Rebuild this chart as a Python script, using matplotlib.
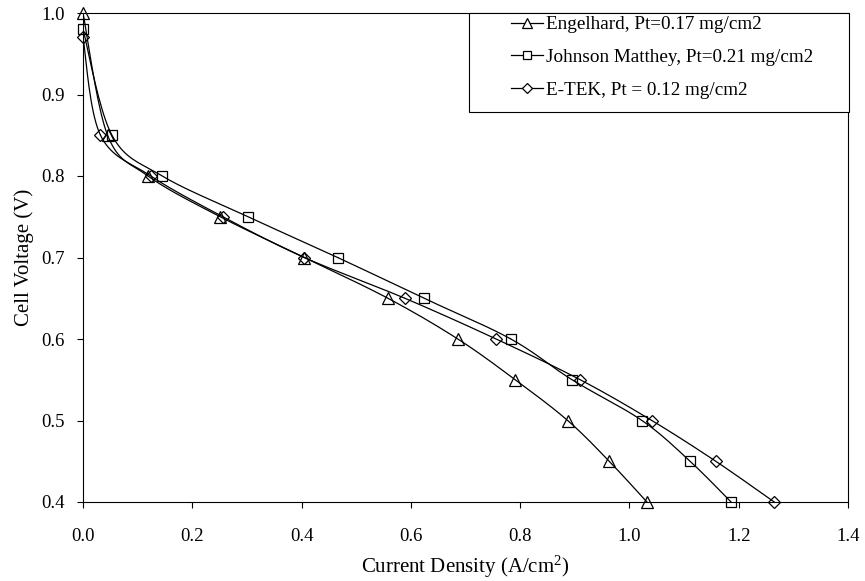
import numpy as np
import matplotlib
matplotlib.use("Agg")
import matplotlib.pyplot as plt
from matplotlib.patches import Rectangle

plt.rcParams["font.family"] = ["Liberation Serif", "DejaVu Serif"]
plt.rcParams["mathtext.fontset"] = "custom"
plt.rcParams["mathtext.rm"] = "Liberation Serif"

# voltage levels (V)
v_engel = [1.00, 0.85, 0.80, 0.75, 0.70, 0.65, 0.60, 0.55, 0.50, 0.45, 0.40]
v_jm = [0.98, 0.85, 0.80, 0.75, 0.70, 0.65, 0.60, 0.55, 0.50, 0.45, 0.40]
v_etek = [0.97, 0.85, 0.80, 0.75, 0.70, 0.65, 0.60, 0.55, 0.50, 0.45, 0.40]

# current density (A/cm2)
i_engel = [0.0, 0.045, 0.119, 0.251, 0.405, 0.558, 0.686, 0.791, 0.887, 0.963, 1.032]
i_jm = [0.0, 0.053, 0.145, 0.302, 0.466, 0.624, 0.783, 0.895, 1.023, 1.111, 1.186]
i_etek = [0.0, 0.032, 0.124, 0.256, 0.405, 0.589, 0.756, 0.910, 1.041, 1.158, 1.265]

labels = ["Engelhard, Pt=0.17 mg/cm2",
          "Johnson Matthey, Pt=0.21 mg/cm2",
          "E-TEK, Pt = 0.12 mg/cm2"]

XLIM = (0.0, 1.4)
YLIM = (0.4, 1.0)


def smooth(x, y, n=20):
    """Catmull-Rom curve through the points (like Excel's smoothed line)"""
    sx = XLIM[1] - XLIM[0]
    sy = YLIM[1] - YLIM[0]
    p = np.column_stack([np.array(x) / sx, np.array(y) / sy])
    p = np.vstack([p[0], p, p[-1]])
    out = []
    for k in range(1, len(p) - 2):
        p0, p1, p2, p3 = p[k - 1], p[k], p[k + 1], p[k + 2]
        t = np.linspace(0, 1, n)[:, None]
        seg = 0.5 * ((2 * p1) + (-p0 + p2) * t
                     + (2 * p0 - 5 * p1 + 4 * p2 - p3) * t ** 2
                     + (-p0 + 3 * p1 - 3 * p2 + p3) * t ** 3)
        out.append(seg)
    c = np.vstack(out)
    return c[:, 0] * sx, c[:, 1] * sy


fig = plt.figure(figsize=(8.65, 5.81), dpi=100)
fig.subplots_adjust(left=83 / 865, right=848 / 865, top=1 - 13 / 581, bottom=1 - 502 / 581)
ax = fig.add_subplot(111)

series = [(i_engel, v_engel, "^", 8), (i_jm, v_jm, "s", 7.5), (i_etek, v_etek, "D", 6.3)]
for (xs, ys, mk, ms), lab in zip(series, labels):
    cx, cy = smooth(xs, ys)
    ax.plot(cx, cy, color="black", lw=0.9, zorder=2)
    ax.plot(xs, ys, linestyle="none", marker=mk, ms=ms, mfc="none", mec="black", mew=0.9,
            zorder=3, clip_on=False)
    ax.plot([], [], color="black", lw=0.9, marker=mk, ms=ms * 0.85, mfc="white",
            mec="black", mew=0.9, label=lab)

ax.set_xlim(*XLIM)
ax.set_ylim(*YLIM)
ax.set_xticks(np.arange(0, 1.41, 0.2))
ax.set_yticks(np.arange(0.4, 1.01, 0.1))
ax.xaxis.set_major_formatter(matplotlib.ticker.FormatStrFormatter("%.1f"))
ax.yaxis.set_major_formatter(matplotlib.ticker.FormatStrFormatter("%.1f"))
ax.tick_params(axis="both", direction="out", length=4, width=0.8, labelsize=13.5, colors="black")
ax.tick_params(axis="x", pad=15)
ax.tick_params(axis="y", pad=9)
for sp in ax.spines.values():
    sp.set_linewidth(0.8)
    sp.set_color("black")

ax.set_xlabel("Current Density (A/cm$\\mathregular{^2}$)", fontsize=15, labelpad=6)
ax.set_ylabel("Cell Voltage (V)", fontsize=15, labelpad=5)

# legend box
W, H = 865, 581
bx0, by0, bx1, by1 = 469, 13, 849, 112
fig.patches.append(Rectangle((bx0 / W, 1 - by1 / H), (bx1 - bx0) / W, (by1 - by0) / H,
                             transform=fig.transFigure, fill=True, facecolor="white",
                             edgecolor="black", lw=0.8, zorder=5))
leg = fig.legend(loc="upper left", bbox_to_anchor=(511 / W, 1 - 16 / H), frameon=False,
                 fontsize=13.8, handlelength=1.65, handletextpad=0.2, labelspacing=0.8,
                 numpoints=1, borderaxespad=0, borderpad=0)
leg.set_zorder(6)

fig.savefig("out.png", dpi=100)
